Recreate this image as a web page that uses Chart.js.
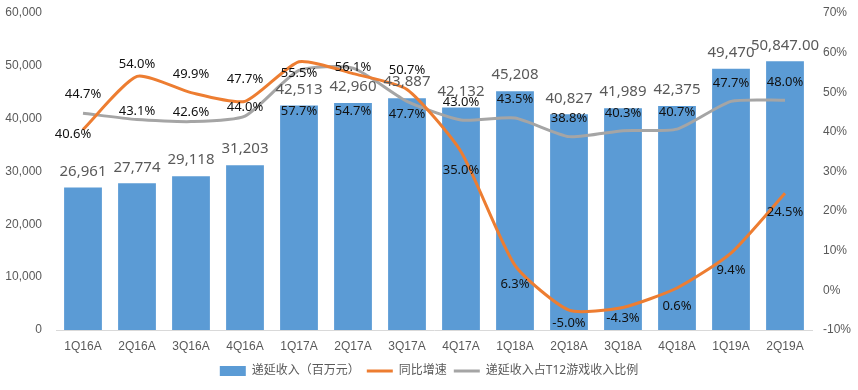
<!DOCTYPE html>
<html>
<head>
<meta charset="utf-8">
<script src="https://cdn.jsdelivr.net/npm/chart.js@4"></script>
<style>
  html, body { margin: 0; padding: 0; background: #fff; }
  #wrap { width: 858px; height: 390px; position: relative; }
</style>
</head>
<body>
<div id="wrap"><canvas id="chart"></canvas></div>
<script>
// 递延收入 / 同比增速 / 占T12游戏收入比例
const quarters = ['1Q16A', '2Q16A', '3Q16A', '4Q16A', '1Q17A', '2Q17A', '3Q17A', '4Q17A',
    '1Q18A', '2Q18A', '3Q18A', '4Q18A', '1Q19A', '2Q19A'];
const deferredRevenue = [26961, 27774, 29118, 31203, 42513, 42960, 43887, 42132,
    45208, 40827, 41989, 42375, 49470, 50847];
const revenueDecimals = [0, 0, 0, 0, 0, 0, 0, 0, 0, 0, 0, 0, 0, 2];
const yoyGrowth = [40.6, 54.0, 49.9, 47.7, 57.7, 54.7, 50.7, 35.0, 6.3, -5.0, -4.3, 0.6, 9.4, 24.5];
const shareOfT12 = [44.7, 43.1, 42.6, 44.0, 55.5, 56.1, 47.7, 43.0, 43.5, 38.8, 40.3, 40.7, 47.7, 48.0];
const leftTicks = [0, 10000, 20000, 30000, 40000, 50000, 60000];
const rightTicks = [-10, 0, 10, 20, 30, 40, 50, 60, 70];

// label offsets (px) relative to line points, placed like the original
const growthLabelDy = [5, -12, -18, -22, 50, 38, -19, 19, 19, 13, 11, 18, 17, 19];
const growthLabelDx = [-10, 0, 0, 0, 0, 0, 0, 0, 0, 0, 0, 0, 0, 0];
const shareLabelDy = [-19, -8, -9, -9, 3, -1, 13, -18, -19, -18, -17, -17, -18, -18];

const FONT = '"Noto Sans", "Noto Sans CJK SC", sans-serif';
const AXIS_FONT = '"Liberation Sans", "Noto Sans CJK SC", sans-serif';
const BLUE = '#5B9BD5';
const ORANGE = '#ED7D31';
const GRAY = '#A5A5A5';
const MUTED = '#595959';

const labelPlugin = {
    id: 'valueLabels',
    afterDatasetsDraw(chart) {
        const ctx = chart.ctx;
        ctx.save();
        ctx.textAlign = 'center';
        ctx.textBaseline = 'middle';

        const barMeta = chart.getDatasetMeta(0);
        ctx.font = '15px ' + FONT;
        ctx.fillStyle = MUTED;
        barMeta.data.forEach((el, i) => {
            const v = deferredRevenue[i].toLocaleString('en-US', {
                minimumFractionDigits: revenueDecimals[i],
                maximumFractionDigits: revenueDecimals[i],
            });
            ctx.fillText(v, el.x, el.y - 16);
        });

        ctx.font = '13px ' + FONT;
        ctx.fillStyle = '#111';
        chart.getDatasetMeta(2).data.forEach((el, i) => {
            ctx.fillText(shareOfT12[i].toFixed(1) + '%', el.x, el.y + shareLabelDy[i]);
        });
        chart.getDatasetMeta(1).data.forEach((el, i) => {
            ctx.fillText(yoyGrowth[i].toFixed(1) + '%', el.x + growthLabelDx[i], el.y + growthLabelDy[i]);
        });
        ctx.restore();
    },
};

const fitVertical = (w) => (s) => {
    s.width = w;
    s.paddingTop = 0;
    s.paddingBottom = 0;
};

new Chart(document.getElementById('chart'), {
    type: 'bar',
    data: {
        labels: quarters,
        datasets: [
            {
                label: '递延收入（百万元）',
                data: deferredRevenue,
                backgroundColor: BLUE,
                yAxisID: 'y',
                barPercentage: 0.7,
                categoryPercentage: 1,
                order: 3,
                pointStyle: 'rect',
            },
            {
                type: 'line',
                label: '同比增速',
                data: yoyGrowth,
                borderColor: ORANGE,
                backgroundColor: ORANGE,
                borderWidth: 3,
                pointRadius: 0,
                tension: 0.2,
                yAxisID: 'y1',
                order: 1,
                pointStyle: 'line',
            },
            {
                type: 'line',
                label: '递延收入占T12游戏收入比例',
                data: shareOfT12,
                borderColor: GRAY,
                backgroundColor: GRAY,
                borderWidth: 3,
                pointRadius: 0,
                tension: 0.2,
                yAxisID: 'y1',
                order: 2,
                pointStyle: 'line',
            },
        ],
    },
    options: {
        responsive: true,
        maintainAspectRatio: false,
        animation: false,
        layout: { padding: { top: 13, left: 0, right: 0, bottom: 3 } },
        plugins: {
            legend: {
                position: 'bottom',
                labels: {
                    usePointStyle: true,
                    pointStyleWidth: 26,
                    boxHeight: 10,
                    color: MUTED,
                    padding: 7,
                    font: { family: FONT, size: 12 },
                    sort: (a, b) => a.datasetIndex - b.datasetIndex,
                },
            },
            tooltip: { enabled: false },
        },
        scales: {
            x: {
                offset: true,
                ticks: { color: MUTED, font: { family: AXIS_FONT, size: 12 }, maxRotation: 0, padding: 9 },
                grid: { display: false, drawTicks: false },
                border: { display: true, color: '#D9D9D9' },
                afterFit: (s) => { s.height = 28; },
            },
            y: {
                position: 'left',
                min: 0,
                max: 60000,
                afterBuildTicks: (s) => { s.ticks = leftTicks.map((v) => ({ value: v })); },
                afterFit: fitVertical(56),
                ticks: {
                    color: MUTED,
                    font: { family: AXIS_FONT, size: 12 },
                    padding: 14,
                    callback: (v) => v.toLocaleString('en-US'),
                },
                grid: { display: false, drawTicks: false },
                border: { display: false },
            },
            y1: {
                position: 'right',
                min: -10,
                max: 70,
                afterBuildTicks: (s) => { s.ticks = rightTicks.map((v) => ({ value: v })); },
                afterFit: fitVertical(46),
                ticks: {
                    color: MUTED,
                    font: { family: AXIS_FONT, size: 12 },
                    padding: 11,
                    callback: (v) => v + '%',
                },
                grid: { display: false, drawTicks: false },
                border: { display: false },
            },
        },
    },
    plugins: [labelPlugin],
});
</script>
</body>
</html>
